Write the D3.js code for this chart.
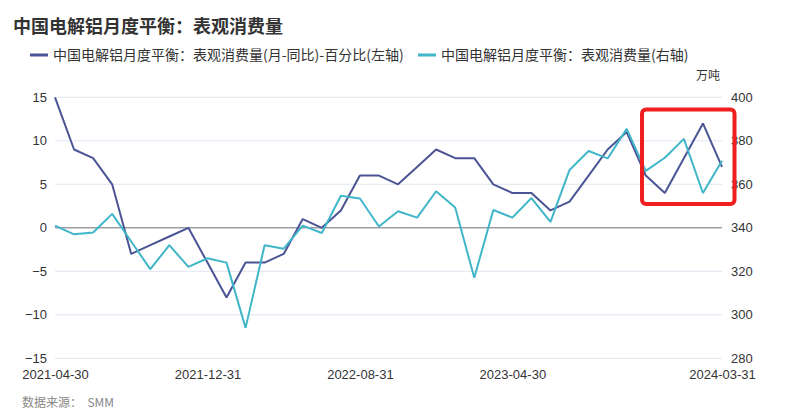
<!DOCTYPE html>
<html><head><meta charset="utf-8">
<script src="https://cdn.jsdelivr.net/npm/d3@7"></script>
<style>
body{margin:0;background:#fff;}
svg{display:block;font-family:"Microsoft YaHei","Noto Sans CJK SC","Noto Sans",sans-serif;}
</style></head>
<body>
<svg id="c" width="788" height="417"></svg>
<script>
const dates = ["2021-04-30","2021-05-31","2021-06-30","2021-07-31","2021-08-31","2021-09-30","2021-10-31","2021-11-30","2021-12-31",
"2022-01-31","2022-02-28","2022-03-31","2022-04-30","2022-05-31","2022-06-30","2022-07-31","2022-08-31","2022-09-30","2022-10-31","2022-11-30","2022-12-31",
"2023-01-31","2023-02-28","2023-03-31","2023-04-30","2023-05-31","2023-06-30","2023-07-31","2023-08-31","2023-09-30","2023-10-31","2023-11-30","2023-12-31",
"2024-01-31","2024-02-29","2024-03-31"];
const yoyPct = [15,9,8,5,-3,-2,-1,0,-4,-8,-4,-4,-3,1,0,2,6,6,5,7,9,8,8,5,4,4,2,3,6,9,11,6,4,8,12,7];
const consumption = [341,337,337.8,346.4,333.7,321,332,322,326,324,294,332,330.4,341,337.6,354.7,353.5,340.6,347.6,344.7,356.8,349.3,317,348.2,344.7,353.7,342.7,366.6,375.3,371.9,385.5,366.2,372.2,380.9,356,370.8];
const leftTicks = [-15,-10,-5,0,5,10,15];
const rightTicks = [280,300,320,340,360,380,400];
const xTickLabels = ["2021-04-30","2021-12-31","2022-08-31","2023-04-30","2024-03-31"];
const title = "中国电解铝月度平衡：表观消费量";
const seriesNames = ["中国电解铝月度平衡：表观消费量(月-同比)-百分比(左轴)","中国电解铝月度平衡：表观消费量(右轴)"];
const colors = ["#4b5494","#40b6c8"];

const svg = d3.select("#c");
const L=55,R=722,T=97.3,B=358.3;
const x = d3.scalePoint().domain(dates).range([L,R]);
const yL = d3.scaleLinear().domain([-15,15]).range([B,T]);
const yR = d3.scaleLinear().domain([280,400]).range([B,T]);

// title
svg.append("text").attr("x",13).attr("y",33).attr("font-size",18).attr("font-weight","bold").attr("fill","#333").text(title);

// legend
const lg = [{x:30,tx:53},{x:418,tx:441}];
seriesNames.forEach((n,i)=>{
  svg.append("line").attr("x1",lg[i].x).attr("x2",lg[i].x+18).attr("y1",55).attr("y2",55).attr("stroke",colors[i]).attr("stroke-width",3);
  svg.append("text").attr("x",lg[i].tx).attr("y",60).attr("font-size",14).attr("fill","#333").text(n);
});

// unit
svg.append("text").attr("x",708).attr("y",80).attr("text-anchor","middle").attr("font-size",12).attr("fill","#333").text("万吨");

// grid
svg.append("g").selectAll("line").data(leftTicks.filter(d=>d!==0)).join("line")
  .attr("x1",L).attr("x2",R).attr("y1",d=>yL(d)).attr("y2",d=>yL(d)).attr("stroke","#e0e6f1").attr("stroke-width",1);
svg.append("line").attr("x1",L).attr("x2",R).attr("y1",yL(0)).attr("y2",yL(0)).attr("stroke","#6e7079").attr("stroke-width",1);

const axFont = "'Liberation Sans',Arial,sans-serif";
// left axis
const axL = svg.append("g").attr("transform",`translate(${L},0)`).call(d3.axisLeft(yL).tickValues(leftTicks).tickSize(0).tickPadding(8));
axL.select(".domain").remove();
axL.selectAll("text").attr("font-size",13).attr("fill","#333").attr("font-family",axFont).attr("dy","0.3em");
// right axis
const axR = svg.append("g").attr("transform",`translate(${R},0)`).call(d3.axisRight(yR).tickValues(rightTicks).tickSize(0).tickPadding(9));
axR.select(".domain").remove();
axR.selectAll("text").attr("font-size",13).attr("fill","#333").attr("font-family",axFont).attr("dy","0.3em");
// x axis
const axX = svg.append("g").attr("transform",`translate(0,${B})`).call(d3.axisBottom(x).tickValues(xTickLabels).tickSize(0).tickPadding(11));
axX.select(".domain").remove();
axX.selectAll("text").attr("font-size",13).attr("fill","#333").attr("font-family",axFont);

// lines
const lineL = d3.line().x((d,i)=>x(dates[i])).y(d=>yL(d));
const lineR = d3.line().x((d,i)=>x(dates[i])).y(d=>yR(d));
svg.append("path").datum(yoyPct).attr("d",lineL).attr("fill","none").attr("stroke",colors[0]).attr("stroke-width",2).attr("stroke-linejoin","bevel");
svg.append("path").datum(consumption).attr("d",lineR).attr("fill","none").attr("stroke",colors[1]).attr("stroke-width",2).attr("stroke-linejoin","bevel");

// red highlight box
svg.append("rect").attr("x",642).attr("y",109.5).attr("width",92.5).attr("height",94.5).attr("rx",4)
  .attr("fill","none").attr("stroke","#f01e1e").attr("stroke-width",4);

// source
svg.append("text").attr("x",22).attr("y",407).attr("font-size",12).attr("fill","#888").attr("xml:space","preserve").text("数据来源：  SMM");
</script>
</body></html>
